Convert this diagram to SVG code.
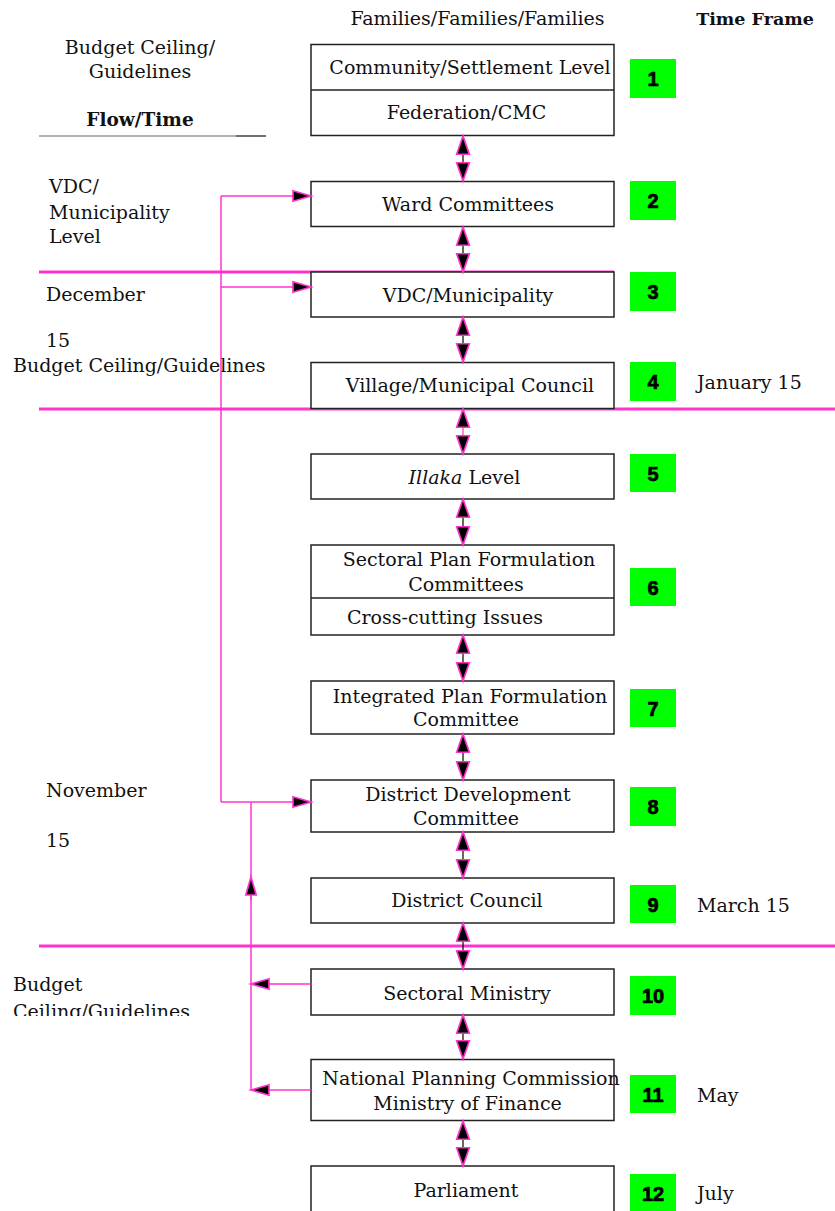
<svg xmlns="http://www.w3.org/2000/svg" width="835" height="1211" viewBox="0 0 835 1211">
<style>
text{font-family:"DejaVu Serif","Liberation Serif",serif;font-size:19px;fill:#111}
.c{text-anchor:middle}
.b{font-weight:bold;font-size:17.5px}
.n{font-family:"Liberation Sans",Arial,sans-serif;font-weight:bold;font-size:20px;text-anchor:middle;fill:#000;stroke:#000;stroke-width:0.7}
.box{fill:#fff;stroke:#222;stroke-width:1.5}
.div{stroke:#222;stroke-width:1.5}
.g{fill:#00ff00}
.sep{stroke:#ff33cc;stroke-width:3}
.pk{stroke:#ff33cc;stroke-width:1.5;fill:none}
.da{stroke:#000;stroke-width:1.2;fill:none;marker-start:url(#ah);marker-end:url(#ah)}
.dap{stroke:#ff33cc;stroke-width:1.2;fill:none;marker-start:url(#ah);marker-end:url(#ah)}
.pa{stroke:#ff33cc;stroke-width:1.5;fill:none;marker-end:url(#ah2)}
</style>
<defs>
<marker id="ah" markerUnits="userSpaceOnUse" markerWidth="20" markerHeight="16" viewBox="0 0 18 13" refX="17.2" refY="6.5" orient="auto-start-reverse" overflow="visible">
<path d="M0.8,0.8 L17.2,6.5 L0.8,12.2 Z" fill="#000" stroke="#ff33cc" stroke-width="1.5"/>
</marker>
<marker id="ah2" markerUnits="userSpaceOnUse" markerWidth="20" markerHeight="14" viewBox="0 0 18 11" refX="17" refY="5.5" orient="auto" overflow="visible">
<path d="M0.8,0.8 L17,5.5 L0.8,10.2 Z" fill="#000" stroke="#ff33cc" stroke-width="1.5"/>
</marker>
<clipPath id="clipBL"><rect x="0" y="960" width="300" height="56"/></clipPath>
</defs>

<g id="headers">
<text x="477.5" y="25" class="c">Families/Families/Families</text>
<text x="755" y="25" class="c b">Time Frame</text>
<text x="140" y="54" class="c">Budget Ceiling/</text>
<text x="140" y="78" class="c">Guidelines</text>
<text x="140" y="126" class="c b" style="font-size:18.5px">Flow/Time</text>
<line x1="39" y1="136" x2="236" y2="136" stroke="#666" stroke-width="1"/>
<line x1="236" y1="136" x2="266" y2="136" stroke="#111" stroke-width="1.2"/>
</g>

<g id="left-labels">
<text x="49" y="193">VDC/</text>
<text x="49" y="219">Municipality</text>
<text x="49" y="243">Level</text>
<text x="46" y="301">December</text>
<text x="46" y="347">15</text>
<text x="13" y="372">Budget Ceiling/Guidelines</text>
<text x="46" y="797">November</text>
<text x="46" y="847">15</text>
<g clip-path="url(#clipBL)">
<text x="13" y="991">Budget</text>
<text x="13" y="1018">Ceiling/Guidelines</text>
</g>
</g>

<g id="time-labels">
<text x="697" y="389">January 15</text>
<text x="697" y="912">March 15</text>
<text x="697" y="1102">May</text>
<text x="697" y="1200">July</text>
</g>

<g id="separators">
<line x1="39" y1="272" x2="614" y2="272" class="sep"/>
<line x1="39" y1="409" x2="835" y2="409" class="sep"/>
<line x1="39" y1="946" x2="835" y2="946" class="sep"/>
</g>

<g id="node1">
<rect x="311" y="44.5" width="303" height="91" class="box"/>
<line x1="311" y1="90" x2="614" y2="90" class="div"/>
<text x="470" y="74" class="c">Community/Settlement Level</text>
<text x="466.5" y="119" class="c">Federation/CMC</text>
<rect x="630" y="59" width="46" height="39" class="g"/><text x="653" y="86" class="n">1</text>
</g>
<g id="node2">
<rect x="311" y="181.5" width="303" height="45" class="box"/>
<text x="468" y="211" class="c">Ward Committees</text>
<rect x="630" y="181" width="46" height="39" class="g"/><text x="653" y="208" class="n">2</text>
</g>
<g id="node3">
<rect x="311" y="272" width="303" height="45" class="box"/>
<text x="468" y="302" class="c">VDC/Municipality</text>
<rect x="630" y="272" width="46" height="39" class="g"/><text x="653" y="299" class="n">3</text>
</g>
<g id="node4">
<rect x="311" y="362.5" width="303" height="46" class="box"/>
<text x="470" y="392" class="c">Village/Municipal Council</text>
<rect x="630" y="362" width="46" height="39" class="g"/><text x="653" y="389" class="n">4</text>
</g>
<g id="node5">
<rect x="311" y="454" width="303" height="45" class="box"/>
<text x="464.5" y="484" class="c"><tspan font-style="italic">Illaka</tspan> Level</text>
<rect x="630" y="454" width="46" height="38" class="g"/><text x="653" y="481" class="n">5</text>
</g>
<g id="node6">
<rect x="311" y="545" width="303" height="90" class="box"/>
<line x1="311" y1="598" x2="614" y2="598" class="div"/>
<text x="469" y="566" class="c">Sectoral Plan Formulation</text>
<text x="466" y="591" class="c">Committees</text>
<text x="347" y="624">Cross-cutting Issues</text>
<rect x="630" y="568" width="46" height="38" class="g"/><text x="653" y="595" class="n">6</text>
</g>
<g id="node7">
<rect x="311" y="681" width="303" height="53" class="box"/>
<text x="470" y="703" class="c">Integrated Plan Formulation</text>
<text x="466" y="726" class="c">Committee</text>
<rect x="630" y="689" width="46" height="38" class="g"/><text x="653" y="716" class="n">7</text>
</g>
<g id="node8">
<rect x="311" y="780" width="303" height="52" class="box"/>
<text x="468" y="801" class="c">District Development</text>
<text x="466" y="825" class="c">Committee</text>
<rect x="630" y="787" width="46" height="39" class="g"/><text x="653" y="814" class="n">8</text>
</g>
<g id="node9">
<rect x="311" y="878" width="303" height="45" class="box"/>
<text x="467" y="907" class="c">District Council</text>
<rect x="630" y="885" width="46" height="38" class="g"/><text x="653" y="912" class="n">9</text>
</g>
<g id="node10">
<rect x="311" y="969" width="303" height="46" class="box"/>
<text x="467" y="1000" class="c">Sectoral Ministry</text>
<rect x="630" y="976" width="46" height="39" class="g"/><text x="653" y="1003" class="n">10</text>
</g>
<g id="node11">
<rect x="311" y="1059.5" width="303" height="61" class="box"/>
<text x="471" y="1085" class="c">National Planning Commission</text>
<text x="467.5" y="1110" class="c">Ministry of Finance</text>
<rect x="630" y="1075" width="46" height="38" class="g"/><text x="653" y="1102" class="n">11</text>
</g>
<g id="node12">
<rect x="311" y="1166" width="303" height="60" class="box"/>
<text x="466" y="1197" class="c">Parliament</text>
<rect x="630" y="1174" width="46" height="40" class="g"/><text x="653" y="1201" class="n">12</text>
</g>

<g id="connectors">
<line x1="463" y1="136" x2="463" y2="181" class="da"/>
<line x1="463" y1="227" x2="463" y2="272" class="da"/>
<line x1="463" y1="317" x2="463" y2="362" class="da"/>
<line x1="463" y1="409" x2="463" y2="454" class="dap"/>
<line x1="463" y1="499" x2="463" y2="545" class="da"/>
<line x1="463" y1="635" x2="463" y2="681" class="da"/>
<line x1="463" y1="734" x2="463" y2="780" class="da"/>
<line x1="463" y1="832" x2="463" y2="878" class="da"/>
<line x1="463" y1="923" x2="463" y2="969" class="da"/>
<line x1="463" y1="1015" x2="463" y2="1059" class="da"/>
<line x1="463" y1="1121" x2="463" y2="1166" class="da"/>
<path d="M221,196 L221,802" class="pk"/>
<path d="M221,196 L311,196" class="pa"/>
<path d="M221,287 L311,287" class="pa"/>
<path d="M221,802 L311,802" class="pa"/>
<path d="M251,802 L251,1090" class="pk"/>
<path d="M251,900 L251,877" class="pa"/>
<path d="M311,984 L251,984" class="pa"/>
<path d="M311,1090 L251,1090" class="pa"/>
</g>
</svg>
